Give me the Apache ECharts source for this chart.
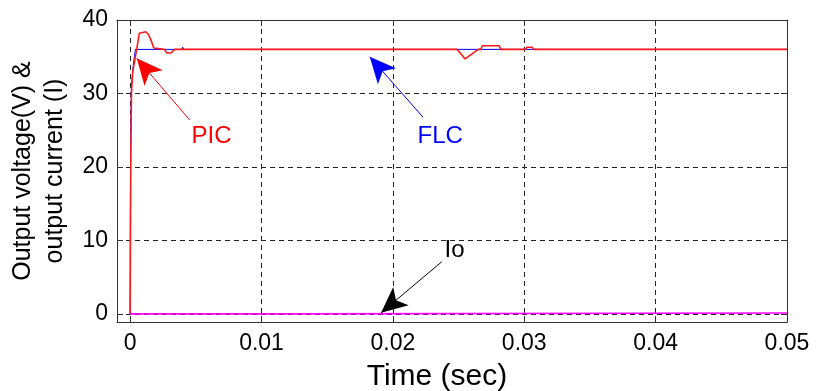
<!DOCTYPE html>
<html>
<head>
<meta charset="utf-8">
<script src="https://cdn.jsdelivr.net/npm/echarts@6/dist/echarts.min.js"></script>
<style>
html, body { margin: 0; padding: 0; background: #fff; }
#chart { width: 816px; height: 391px; }
</style>
</head>
<body>
<div id="chart"></div>
<script>
// axis ticks
const timeTicks = [0, 0.01, 0.02, 0.03, 0.04, 0.05];
const valueTicks = [0, 10, 20, 30, 40];

// PIC output voltage (red)
const picTime = [0, 0.00001, 0.00005, 0.0001, 0.0002, 0.0004, 0.0005, 0.00065, 0.0007, 0.0008, 0.0012, 0.0014, 0.0016, 0.0018, 0.0019,
  0.0026, 0.0028, 0.0031, 0.0034, 0.0249, 0.0255, 0.0265, 0.0267, 0.0268, 0.0281, 0.0282, 0.0301, 0.0302, 0.0306, 0.0307, 0.05];
const picValue = [0, 0, 21, 30, 33, 35, 36, 36, 38.2, 38.4, 38.4, 38, 37.2, 36.2, 36,
  36, 35.5, 35.5, 36, 36, 34.7, 36, 36, 36.5, 36.5, 36, 36, 36.3, 36.3, 36, 36];

// FLC output voltage (blue)
const flcTime = [0, 0.00003, 0.0001, 0.00025, 0.0004, 0.0039, 0.004, 0.0041, 0.0086, 0.0087, 0.0088, 0.05];
const flcValue = [0, 21, 31, 34, 36, 36, 36.3, 36, 36, 36.2, 36, 36];

// output current Io (magenta)
const ioTime = [0, 0.0119, 0.0119, 0.05];
const ioValue = [0, 0, 0.12, 0.12];

// annotations: arrow [tail, tip] and label position, in data units
const picArrow = [[0.00453, 26.4], [0.0005, 34.8]];
const picLabel = [0.0062, 24.2];
const flcArrow = [[0.02228, 26.8], [0.01824, 35.0]];
const flcLabel = [0.0236, 24.2];
const ioArrow = [[0.02372, 7.1], [0.0191, 0.15]];
const ioLabel = [0.0247, 8.6];

const zip = (xs, ys) => xs.map((x, i) => [x, ys[i]]);

const arrow = (pts, color) => ({
  silent: true,
  symbol: ['none', 'arrow'],
  symbolSize: [18, 26],
  label: { show: false },
  lineStyle: { color: color, width: 1, type: 'solid' },
  emphasis: { disabled: true },
  data: [[{ coord: pts[0] }, { coord: pts[1] }]]
});

const note = (text, pos, color) => ({
  silent: true,
  symbol: 'circle',
  symbolSize: 0,
  label: { show: true, position: 'inside', formatter: text, color: color, fontSize: 24 },
  data: [{ coord: pos }]
});

const font = 'Liberation Sans';
const gridLine = { show: true, lineStyle: { color: '#222', width: 1, type: [5, 4] } };
const frame = { show: true, onZero: false, lineStyle: { color: '#333', width: 1 } };

var chart = echarts.init(document.getElementById('chart'));
var option = {
  animation: false,
  backgroundColor: '#fff',
  textStyle: { fontFamily: font },
  grid: { left: 117, right: 29, top: 20, bottom: 69, outerBoundsMode: 'none', containLabel: false },
  xAxis: [
    {
      type: 'value', min: -0.001, max: 0.05,
      name: 'Time (sec)', nameLocation: 'middle', nameGap: 40,
      nameTextStyle: { fontSize: 30, color: '#000', fontFamily: font, padding: [0, 30, 0, 0] },
      axisLine: frame,
      axisTick: { show: true, inside: true, length: 6, customValues: timeTicks, lineStyle: { color: '#333' } },
      axisLabel: { customValues: timeTicks, fontSize: 23, color: '#000', margin: 10, formatter: v => String(v) },
      splitLine: gridLine
    },
    {
      type: 'value', min: -0.001, max: 0.05, position: 'top',
      axisLine: frame,
      axisTick: { show: true, inside: true, length: 6, customValues: timeTicks, lineStyle: { color: '#333' } },
      axisLabel: { show: false },
      splitLine: { show: false }
    }
  ],
  yAxis: [
    {
      type: 'value', min: -1.1, max: 40,
      name: 'Output voltage(V) &\noutput current (I)', nameLocation: 'middle', nameGap: 46,
      nameTextStyle: { fontSize: 25, lineHeight: 32, color: '#000', fontFamily: font },
      axisLine: frame,
      axisTick: { show: true, inside: true, length: 6, customValues: valueTicks, lineStyle: { color: '#333' } },
      axisLabel: { customValues: valueTicks, fontSize: 23, color: '#000', margin: 9 },
      splitLine: gridLine
    },
    {
      type: 'value', min: -1.1, max: 40, position: 'right',
      axisLine: frame,
      axisTick: { show: true, inside: true, length: 6, customValues: valueTicks, lineStyle: { color: '#333' } },
      axisLabel: { show: false },
      splitLine: { show: false }
    }
  ],
  series: [
    {
      name: 'FLC', type: 'line', showSymbol: false, symbol: 'none',
      lineStyle: { color: '#0000ff', width: 1 },
      data: zip(flcTime, flcValue),
      markLine: arrow(flcArrow, '#0000ff'),
      markPoint: note('FLC', flcLabel, '#0000ff')
    },
    {
      name: 'PIC', type: 'line', showSymbol: false, symbol: 'none',
      lineStyle: { color: '#ff1a1a', width: 1.6 },
      data: zip(picTime, picValue),
      markLine: arrow(picArrow, '#ff0000'),
      markPoint: note('PIC', picLabel, '#ff0000')
    },
    {
      name: 'Io', type: 'line', showSymbol: false, symbol: 'none',
      lineStyle: { color: '#ff00ff', width: 1.6 },
      data: zip(ioTime, ioValue),
      markLine: arrow(ioArrow, '#000000'),
      markPoint: note('Io', ioLabel, '#000000')
    }
  ]
};
option && chart.setOption(option);
</script>
</body>
</html>
